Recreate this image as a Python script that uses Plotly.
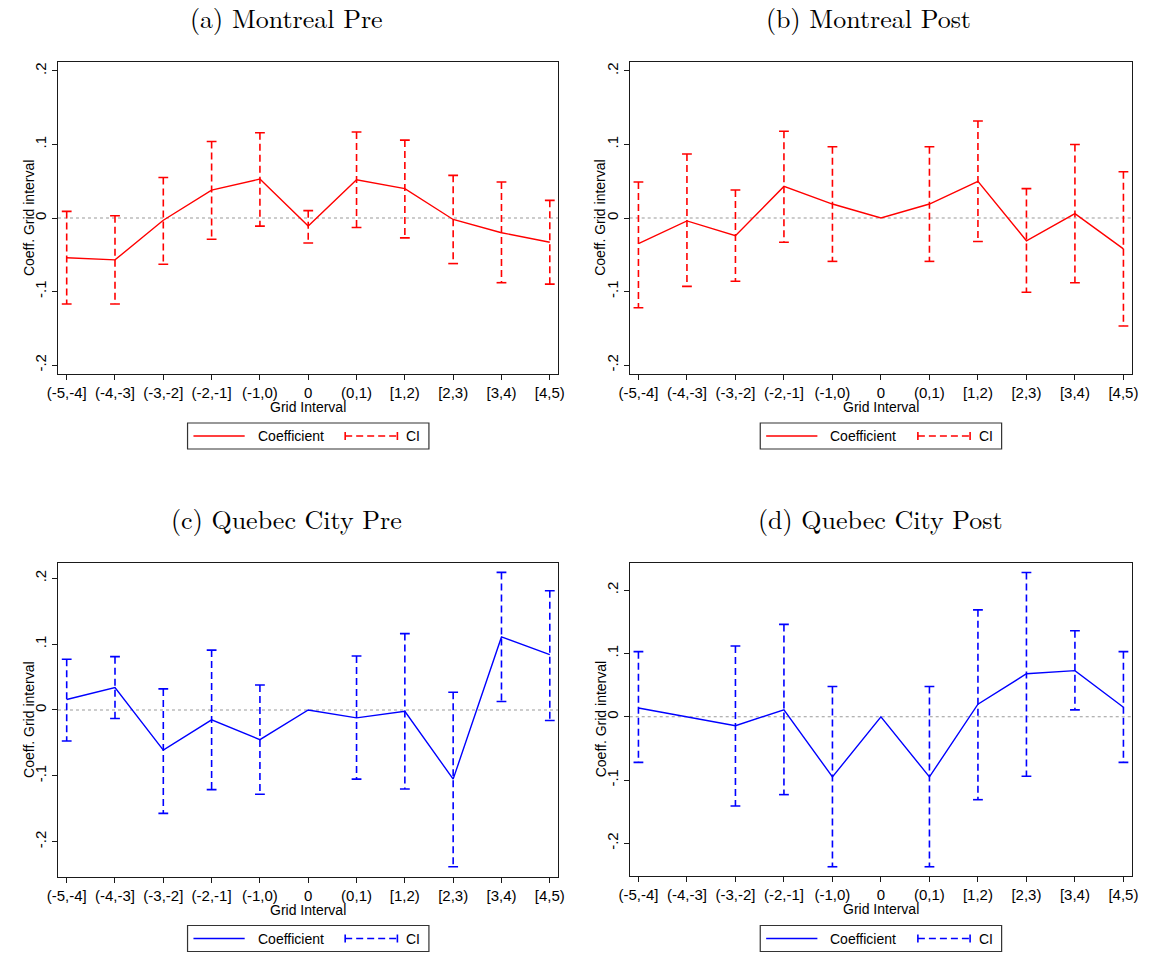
import plotly.graph_objects as go

W, H = 1149, 956

categories = ["(-5,-4]", "(-4,-3]", "(-3,-2]", "(-2,-1]", "(-1,0)", "0",
              "(0,1)", "[1,2)", "[2,3)", "[3,4)", "[4,5)"]

# (a) Montreal Pre
mp_coef = [-0.054, -0.057, -0.003, 0.038, 0.053, -0.011, 0.052, 0.040, -0.002, -0.020, -0.033]
mp_hi   = [0.009, 0.003, 0.055, 0.104, 0.116, 0.010, 0.117, 0.106, 0.058, 0.049, 0.024]
mp_lo   = [-0.117, -0.117, -0.063, -0.029, -0.011, -0.034, -0.013, -0.027, -0.062, -0.088, -0.090]

# (b) Montreal Post
mq_coef = [-0.035, -0.004, -0.024, 0.043, 0.019, 0.0, 0.019, 0.050, -0.031, 0.006, -0.042]
mq_hi   = [0.049, 0.087, 0.038, 0.118, 0.097, None, 0.097, 0.132, 0.040, 0.100, 0.063]
mq_lo   = [-0.122, -0.093, -0.086, -0.033, -0.059, None, -0.059, -0.032, -0.101, -0.088, -0.147]

# (c) Quebec City Pre
qp_coef = [0.016, 0.034, -0.061, -0.015, -0.045, 0.0, -0.012, -0.002, -0.105, 0.111, 0.084]
qp_hi   = [0.077, 0.081, 0.032, 0.091, 0.038, None, 0.082, 0.116, 0.027, 0.209, 0.181]
qp_lo   = [-0.047, -0.013, -0.157, -0.121, -0.128, None, -0.105, -0.120, -0.238, 0.013, -0.016]

# (d) Quebec City Post
qq_coef = [0.014, 0.0, -0.014, 0.011, -0.095, 0.0, -0.095, 0.020, 0.068, 0.073, 0.015]
qq_hi   = [0.103, None, 0.112, 0.146, 0.048, None, 0.048, 0.169, 0.228, 0.136, 0.103]
qq_lo   = [-0.072, None, -0.141, -0.123, -0.237, None, -0.237, -0.131, -0.094, 0.011, -0.072]

ytick_vals = [-0.2, -0.1, 0, 0.1, 0.2]
ytick_text = ["-.2", "-.1", "0", ".1", ".2"]

panel_titles = ["(a) Montreal Pre", "(b) Montreal Post",
                "(c) Quebec City Pre", "(d) Quebec City Post"]

RED, BLUE = "#FF0000", "#0000FF"

panels = [
    dict(coef=mp_coef, hi=mp_hi, lo=mp_lo, color=RED,
         xpx=(47.7, 555.7), ypx=(62.3, 374.0), yr=(-0.2122, 0.2118),
         title_x=280, title_y=17, legend_y=436),
    dict(coef=mq_coef, hi=mq_hi, lo=mq_lo, color=RED,
         xpx=(628.0, 1138.0), ypx=(62.3, 374.0), yr=(-0.2122, 0.2118),
         title_x=870, title_y=17, legend_y=436),
    dict(coef=qp_coef, hi=qp_hi, lo=qp_lo, color=BLUE,
         xpx=(47.7, 555.7), ypx=(563.3, 876.7), yr=(-0.2532, 0.2228),
         title_x=280, title_y=518, legend_y=938.5),
    dict(coef=qq_coef, hi=qq_hi, lo=qq_lo, color=BLUE,
         xpx=(628.0, 1138.0), ypx=(563.3, 876.0), yr=(-0.2516, 0.2426),
         title_x=883, title_y=518, legend_y=938.5),
]


def px_x(v):
    return v / W


def px_y(v):
    return 1 - v / H


fig = go.Figure()
shapes = []
annotations = []
layout_axes = {}

SANS = "Arial, Liberation Sans, sans-serif"
SERIF = "Latin Modern Roman, CMU Serif, Liberation Serif, serif"

for i, p in enumerate(panels):
    n = i + 1
    xa = "x" if n == 1 else f"x{n}"
    ya = "y" if n == 1 else f"y{n}"
    xkey = "xaxis" if n == 1 else f"xaxis{n}"
    ykey = "yaxis" if n == 1 else f"yaxis{n}"

    # CI segments
    cx, cy = [], []
    for c, h, l in zip(categories, p["hi"], p["lo"]):
        if h is None or l is None:
            continue
        cx += [c, c, None]
        cy += [h, l, None]
    fig.add_trace(go.Scatter(
        x=cx, y=cy, xaxis=xa, yaxis=ya, mode="lines+markers",
        line=dict(color=p["color"], width=1.6, dash="7px,4px"),
        marker=dict(symbol="line-ew", size=7,
                    line=dict(color=p["color"], width=1.6)),
        showlegend=False, hoverinfo="skip"))
    # Coefficient line
    fig.add_trace(go.Scatter(
        x=categories, y=p["coef"], xaxis=xa, yaxis=ya, mode="lines",
        line=dict(color=p["color"], width=1.4),
        showlegend=False))

    x0, x1 = p["xpx"]
    yt, yb = p["ypx"]
    layout_axes[xkey] = dict(
        domain=[px_x(x0), px_x(x1)], anchor=ya,
        type="category", categoryorder="array", categoryarray=categories,
        range=[-0.18, 10.18], showgrid=False, zeroline=False,
        showline=True, mirror=True, linecolor="#1a1a1a", linewidth=1.3,
        ticks="outside", ticklen=5, tickwidth=1.1, tickcolor="#1a1a1a",
        tickfont=dict(family=SANS, size=15, color="black"), tickangle=0,
        fixedrange=True)
    layout_axes[ykey] = dict(
        domain=[px_y(yb), px_y(yt)], anchor=xa,
        range=list(p["yr"]), showgrid=False, zeroline=False,
        showline=True, mirror=True, linecolor="#1a1a1a", linewidth=1.3,
        ticks="outside", ticklen=5, tickwidth=1.1, tickcolor="#1a1a1a",
        tickvals=ytick_vals, ticktext=ytick_text, tickangle=-90,
        tickfont=dict(family=SANS, size=15, color="black"),
        fixedrange=True)

    # zero reference line
    shapes.append(dict(type="line", xref=f"{xa} domain", yref=ya,
                       x0=0, x1=1, y0=0, y1=0, layer="below",
                       line=dict(color="#9a9a9a", width=1.1, dash="dot")))

    cxp = (x0 + x1) / 2
    cyp = (yt + yb) / 2
    # panel title
    annotations.append(dict(text=panel_titles[i], xref="paper", yref="paper",
                            x=px_x(p["title_x"]), y=px_y(p["title_y"]),
                            xanchor="center", yanchor="middle", showarrow=False,
                            font=dict(family=SERIF, size=26, color="black")))
    # axis titles
    annotations.append(dict(text="Grid Interval", xref="paper", yref="paper",
                            x=px_x(cxp), y=px_y(yb + 33),
                            xanchor="center", yanchor="middle", showarrow=False,
                            font=dict(family=SANS, size=14, color="black")))
    annotations.append(dict(text="Coeff. Grid interval", xref="paper", yref="paper",
                            x=px_x(x0 - 29.5), y=px_y(cyp), textangle=-90,
                            xanchor="center", yanchor="middle", showarrow=False,
                            font=dict(family=SANS, size=14, color="black")))

    # legend (drawn manually)
    L = cxp - 122.5
    ly = p["legend_y"]
    shapes.append(dict(type="rect", xref="paper", yref="paper",
                       x0=px_x(L), x1=px_x(L + 245), y0=px_y(ly + 13), y1=px_y(ly - 13),
                       line=dict(color="#333333", width=1.2), fillcolor="white"))
    shapes.append(dict(type="line", xref="paper", yref="paper",
                       x0=px_x(L + 6), x1=px_x(L + 58), y0=px_y(ly), y1=px_y(ly),
                       line=dict(color=p["color"], width=1.4)))
    annotations.append(dict(text="Coefficient", xref="paper", yref="paper",
                            x=px_x(L + 69), y=px_y(ly), xanchor="left", yanchor="middle",
                            showarrow=False,
                            font=dict(family=SANS, size=14, color="black")))
    shapes.append(dict(type="line", xref="paper", yref="paper",
                       x0=px_x(L + 160), x1=px_x(L + 213), y0=px_y(ly), y1=px_y(ly),
                       line=dict(color=p["color"], width=1.6, dash="7px,4px")))
    for cxx in (L + 160, L + 213):
        shapes.append(dict(type="line", xref="paper", yref="paper",
                           x0=px_x(cxx), x1=px_x(cxx), y0=px_y(ly - 4), y1=px_y(ly + 4),
                           line=dict(color=p["color"], width=1.6)))
    annotations.append(dict(text="CI", xref="paper", yref="paper",
                            x=px_x(L + 220), y=px_y(ly), xanchor="left", yanchor="middle",
                            showarrow=False,
                            font=dict(family=SANS, size=14, color="black")))

fig.update_layout(
    width=W, height=H,
    margin=dict(l=0, r=0, t=0, b=0),
    paper_bgcolor="white", plot_bgcolor="white",
    showlegend=False,
    shapes=shapes, annotations=annotations,
    **layout_axes)

fig.write_html("out.html",
               config={"displayModeBar": False, "staticPlot": False},
               post_script="document.body.style.margin='0';"
                           "document.body.style.overflow='hidden';")
